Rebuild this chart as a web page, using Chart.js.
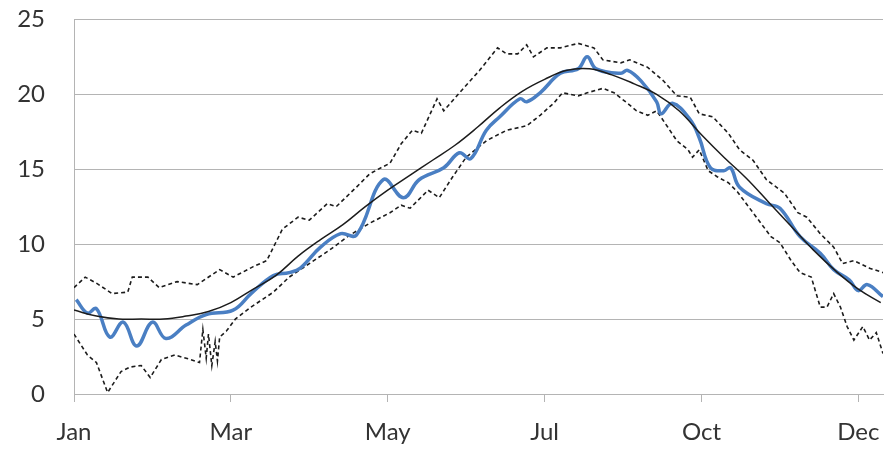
<!DOCTYPE html>
<html>
<head>
<meta charset="utf-8">
<script src="https://cdn.jsdelivr.net/npm/chart.js@4/dist/chart.umd.min.js"></script>
<style>
  body { margin: 0; background: #fff; }
  #wrap { width: 888px; height: 452px; }
</style>
</head>
<body>
<div id="wrap"><canvas id="tempChart" width="888" height="452"></canvas></div>
<script>
// x axis: day index, labels every 70 days
const tickDays = [0, 70, 140, 210, 280, 350];
const monthLabels = ["Jan", "Mar", "May", "Jul", "Oct", "Dec"];
const yTicks = [0, 5, 10, 15, 20, 25];

// long term mean (thin black line)
const meanDays = [0, 10, 20, 30, 40, 50, 60, 70, 80, 90, 100, 110, 120, 130, 140, 150, 160, 170, 180,
                  190, 200, 210, 220, 230, 240, 250, 260, 270, 280, 290, 300, 310, 320, 330, 340, 350, 360];
const meanTemp = [5.6, 5.2, 5.0, 5.0, 5.0, 5.2, 5.5, 6.1, 7.0, 7.9, 9.2, 10.3, 11.3, 12.5, 13.6, 14.6, 15.6, 16.6, 17.8,
                  19.1, 20.2, 21.0, 21.6, 21.7, 21.3, 20.7, 20.0, 18.9, 17.3, 15.8, 14.4, 12.8, 11.2, 9.6, 8.2, 7.0, 6.1];

// observed year (blue line)
const obsDays = [1, 6, 10, 16, 22, 28, 35, 41, 50, 59, 71, 79, 89, 96, 101, 110, 119, 126, 138, 147, 154,
                 165, 172, 177, 184, 190, 199, 202, 208, 217, 225, 229, 233, 244, 247, 253, 260, 262, 267,
                 275, 279, 284, 290, 293, 297, 309, 315, 324, 333, 339, 346, 350, 354, 361];
const obsTemp = [6.3, 5.4, 5.7, 3.8, 4.8, 3.2, 4.8, 3.7, 4.6, 5.3, 5.6, 6.7, 7.9, 8.1, 8.4, 9.8, 10.7, 10.6, 14.3, 13.1, 14.3,
                 15.1, 16.1, 15.7, 17.6, 18.5, 19.7, 19.5, 20.1, 21.4, 21.7, 22.5, 21.7, 21.4, 21.6, 20.9, 19.5, 18.7, 19.4,
                 18.3, 17.1, 15.1, 14.9, 15.1, 13.8, 12.7, 12.4, 10.5, 9.4, 8.3, 7.6, 6.9, 7.3, 6.5];

// upper envelope (dashed)
const maxDays = [0, 5, 10, 17, 24, 26, 33, 38, 46, 55, 65, 71, 80, 86, 93, 100, 105, 113, 117, 126, 132, 137,
                 141, 146, 151, 155, 162, 165, 172, 181, 189, 193, 198, 202, 205, 211, 217, 225, 232, 236, 244,
                 248, 256, 263, 269, 275, 279, 285, 292, 297, 303, 309, 317, 323, 327, 333, 339, 343, 348, 355, 361];
const maxTemp = [7.1, 7.8, 7.4, 6.7, 6.8, 7.8, 7.8, 7.1, 7.5, 7.3, 8.3, 7.8, 8.5, 8.9, 11.0, 11.8, 11.6, 12.7, 12.5, 13.8, 14.7, 15.1,
                 15.4, 16.7, 17.6, 17.4, 19.7, 18.9, 20.1, 21.6, 23.1, 22.7, 22.7, 23.3, 22.5, 23.1, 23.1, 23.4, 23.1, 22.3, 22.1,
                 22.3, 21.8, 20.9, 19.9, 19.8, 18.7, 18.5, 17.4, 16.3, 15.6, 14.3, 13.4, 12.1, 11.8, 10.7, 9.8, 8.7, 8.9, 8.4, 8.1];

// lower envelope (dashed)
const minDays = [0, 6, 10, 15, 21, 25, 30, 34, 39, 45, 52, 56, 57.5, 59, 60, 61.5, 63, 64, 65, 68, 72, 79, 89,
                 96, 105, 114, 123, 132, 141, 146, 150, 158, 163, 169, 175, 184, 193, 202, 208, 214, 218, 225,
                 229, 236, 241, 247, 251, 256, 260, 265, 269, 274, 276, 279, 283, 287, 292, 296, 303, 311, 315,
                 320, 324, 329, 333, 336, 339, 342, 345, 348, 352, 355, 358, 361];
const minTemp = [4.0, 2.6, 2.1, 0.1, 1.5, 1.8, 1.9, 1.1, 2.3, 2.6, 2.3, 2.1, 4.3, 2.4, 4.0, 1.9, 3.5, 2.2, 3.8, 4.2, 5.0, 5.8, 6.8,
                 7.8, 8.7, 9.6, 10.6, 11.4, 12.1, 12.6, 12.4, 13.6, 13.1, 14.5, 15.8, 16.9, 17.6, 17.9, 18.6, 19.4, 20.1, 19.9,
                 20.1, 20.4, 20.1, 19.4, 18.9, 18.6, 18.9, 17.8, 16.9, 16.3, 15.8, 16.3, 14.9, 14.5, 14.1, 13.5, 12.1, 10.5, 10.1,
                 8.9, 8.1, 7.8, 5.8, 5.8, 6.7, 5.8, 4.5, 3.6, 4.5, 3.6, 4.1, 2.7];

function pts(days, vals) {
    return days.map((d, i) => ({ x: d, y: vals[i] }));
}

const gridGrey = "#b4b4b4";
const labelFont = { family: "Lato", size: 24 };

new Chart(document.getElementById("tempChart"), {

    type: "line",

    data: {
        datasets: [
            {
                label: "Mean",
                data: pts(meanDays, meanTemp),
                borderColor: "#1c1c1c",
                borderWidth: 1.5,
                tension: 0.4,
                order: 1
            },
            {
                label: "Observed",
                data: pts(obsDays, obsTemp),
                borderColor: "#4a7fc3",
                borderWidth: 3.5,
                tension: 0.4,
                order: 2
            },
            {
                label: "Max",
                data: pts(maxDays, maxTemp),
                borderColor: "#1c1c1c",
                borderWidth: 1.6,
                borderDash: [4, 3],
                tension: 0,
                order: 3
            },
            {
                label: "Min",
                data: pts(minDays, minTemp),
                borderColor: "#1c1c1c",
                borderWidth: 1.6,
                borderDash: [4, 3],
                tension: 0,
                order: 4
            }
        ]
    },

    options: {
        responsive: false,
        animation: false,
        elements: { point: { radius: 0 } },
        layout: { padding: { top: 0, right: 5, left: 0, bottom: 0 } },
        plugins: {
            legend: { display: false },
            tooltip: { enabled: false }
        },
        scales: {
            x: {
                type: "linear",
                min: 0,
                max: 361,
                afterBuildTicks: s => { s.ticks = tickDays.map(v => ({ value: v })); },
                afterFit: s => {
                    s.height = 58;
                    s.paddingLeft = 0;
                    s.paddingRight = 0;
                },
                grid: { drawOnChartArea: false, drawTicks: true, tickLength: 8, color: gridGrey },
                border: { color: gridGrey },
                ticks: {
                    font: labelFont,
                    color: "#333",
                    padding: 16,
                    maxRotation: 0,
                    autoSkip: false,
                    callback: v => monthLabels[tickDays.indexOf(v)]
                }
            },
            y: {
                min: 0,
                max: 25,
                afterBuildTicks: s => { s.ticks = yTicks.map(v => ({ value: v })); },
                afterFit: s => { s.width = 74; },
                grid: { color: gridGrey, drawTicks: true, tickLength: 24, tickColor: "rgba(0,0,0,0)" },
                border: { color: gridGrey },
                ticks: {
                    font: labelFont,
                    color: "#333",
                    padding: 5
                }
            }
        }
    }

});
</script>
</body>
</html>
